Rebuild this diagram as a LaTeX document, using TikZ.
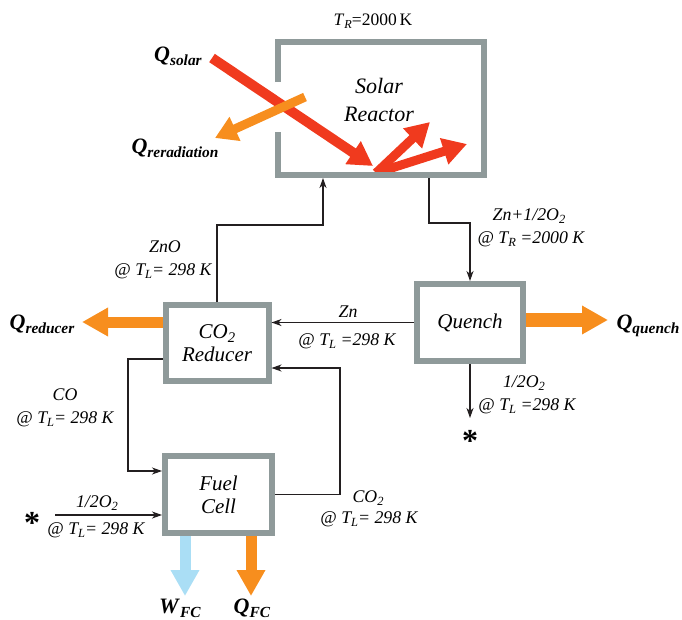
\documentclass[tikz,border=0pt]{standalone}
\usepackage{fontspec}
\setmainfont{Liberation Serif}
\usetikzlibrary{arrows.meta,calc}
\definecolor{frame}{RGB}{143,154,154}
\definecolor{sunred}{RGB}{240,58,30}
\definecolor{heat}{RGB}{247,142,30}
\definecolor{work}{RGB}{170,222,245}
\definecolor{ink}{RGB}{35,31,32}
\newcommand\sbs[1]{\raisebox{-0.4ex}{\scalebox{0.7}{#1}}}
\newcommand\qq[2][Q]{\textbf{\textit{#1}}\sbs{\textbf{\textit{#2}}}}
\begin{document}
\begin{tikzpicture}[x=1pt,y=-1pt,
  box/.style={draw=frame, line width=6pt, fill=white, align=center, inner sep=0pt,
    font=\fontsize{21}{23}\selectfont\itshape},
  flow/.style={draw=ink, line width=1.1pt, -{Stealth[length=10pt,width=7pt,inset=3pt]}},
  lab/.style={font=\fontsize{17.8}{20}\selectfont\itshape, anchor=base, inner sep=0pt},
  qlab/.style={font=\fontsize{22}{24}\selectfont, anchor=base, inner sep=0pt},
  heatarrow/.style={draw=heat, line width=11pt, -{Triangle[length=26pt,width=27pt]}},
  workarrow/.style={draw=work, line width=11pt, -{Triangle[length=26pt,width=27pt]}},
  sunarrow/.style={draw=sunred, line width=10pt, -{Triangle[length=24pt,width=26pt]}},
  astx/.style={font=\fontsize{32}{32}\selectfont\bfseries, inner sep=0pt}
]
\useasboundingbox (0,0) rectangle (682,619);

% reactor (invisible node holding anchors)
\node[minimum width=206pt, minimum height=133pt, outer sep=3pt, inner sep=0pt] (reactor) at (381,108.5) {};
\coordinate (rin) at (323,178);
\coordinate (rout) at (429,178);

% connectors
\coordinate (znoA) at (217,225);
\coordinate (znoB) at (323,225);
\coordinate (znA) at (429,223);
\coordinate (znB) at (470,223);
\coordinate (coA) at (128,359);
\coordinate (coB) at (128,471);
\coordinate (c2A) at (340,494.5);
\coordinate (c2B) at (340,368);
\coordinate (o2in) at (55,515);
\coordinate (o2out) at (470,418);

\node[box, minimum width=103pt, minimum height=76pt] (red) at (217,343) {CO\sbs{2}\\Reducer};
\node[box, minimum width=106pt, minimum height=77pt] (quench) at (470,322.5) {Quench};
\node[box, minimum width=107pt, minimum height=77pt] (fuel) at (218.5,494.5) {Fuel\\Cell};

\draw[flow] (red.north) -- (znoA) -- (znoB) -- (rin);
\draw[flow] (rout) -- (znA) -- (znB) -- (quench.north);
\draw[flow] (quench.west) -- (quench.west -| red.east);
\draw[flow] (red.west |- coA) -- (coA) -- (coB) -- (coB -| fuel.west);
\draw[flow] (fuel.east) -- (c2A) -- (c2B) -- (c2B -| red.east);
\draw[flow] (o2in) -- (o2in -| fuel.west);
\draw[flow] (quench.south) -- (o2out);

% heavy arrows
\coordinate (qredtip) at (82,322);
\coordinate (qqtip) at (608,320);
\coordinate (wtip) at (185,596);
\coordinate (qfctip) at (251,596);
\draw[heatarrow] (qredtip -| red.west) -- (qredtip);
\draw[heatarrow, line width=14pt] (qqtip -| quench.east) -- (qqtip);
\draw[workarrow] (wtip |- fuel.south) -- (wtip);
\draw[heatarrow] (qfctip |- fuel.south) -- (qfctip);

% solar arrows
\coordinate (sunstart) at (212,58);
\coordinate (sunhit) at (373,166);
\coordinate (refbase) at (376,173);
\coordinate (refA) at (430,122);
\coordinate (refB) at (467,144);
\coordinate (rrstart) at (305,97);
\coordinate (rrtip) at (215,138);
\draw[sunarrow] (sunstart) -- (sunhit);
\draw[sunarrow, line width=9pt] (refbase) -- (refA);
\draw[sunarrow, line width=9pt] (refbase) -- (refB);
\draw[heatarrow, line width=9pt, -{Triangle[length=22pt,width=25pt]}] (rrstart) -- (rrtip);

% reactor frame with aperture
\draw[frame, line width=6pt, line join=miter] (278,82) -- (278,42) -- (484,42) -- (484,175) -- (278,175) -- (278,132);

% texts
\node[font=\fontsize{22}{28}\selectfont\itshape, align=center] (reactortxt) at (379,100) {Solar\\Reactor};
\node[font=\fontsize{17.5}{20}\selectfont, anchor=base, inner sep=0pt] (tr) at (373,25) {\textit{T}\sbs{\textit{R}}=2000\,K};

\node[qlab] (qsolar) at (178,61) {\qq{solar}};
\node[qlab] (qrerad) at (175,153) {\qq{reradiation}};
\node[qlab] (qreducer) at (42,329) {\qq{reducer}};
\node[qlab] (qquench) at (648,329) {\qq{quench}};
\node[qlab] (wfc) at (180,613) {\qq[W]{FC}};
\node[qlab] (qfc) at (252,613) {\qq{FC}};

\node[lab] (l1) at (165,252) {ZnO};
\node[lab] (l2) at (163,275) {@ \textit{T}\sbs{L}= 298 K};
\node[lab] (l3) at (348,317) {Zn};
\node[lab] (l4) at (347,345) {@ \textit{T}\sbs{L} =298 K};
\node[lab] (l5) at (65,400) {CO};
\node[lab] (l6) at (65,423) {@ \textit{T}\sbs{L}= 298 K};
\node[lab] (l7) at (97,507) {1/2O\sbs{2}};
\node[lab] (l8) at (96,534) {@ \textit{T}\sbs{L}= 298 K};
\node[lab] (l9) at (368,502) {CO\sbs{2}};
\node[lab] (l10) at (369,523) {@ \textit{T}\sbs{L}= 298 K};
\node[lab] (l11) at (529,220) {Zn+1/2O\sbs{2}};
\node[lab] (l12) at (531,243) {@ \textit{T}\sbs{R} =2000 K};
\node[lab] (l13) at (524,387) {1/2O\sbs{2}};
\node[lab] (l14) at (527,410) {@ \textit{T}\sbs{L} =298 K};

\node[astx] (astA) at (32,523) {*};
\node[astx] (astB) at (470,441) {*};
\end{tikzpicture}
\end{document}
